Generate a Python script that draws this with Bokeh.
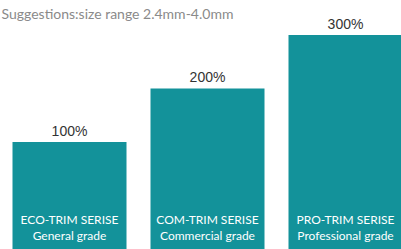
from bokeh.plotting import figure
from bokeh.models import Range1d, ColumnDataSource, Label
from bokeh.core.properties import value
from bokeh.embed import file_html
from bokeh.resources import INLINE

series = ["ECO-TRIM SERISE", "COM-TRIM SERISE", "PRO-TRIM SERISE"]
grades = ["General grade", "Commercial grade", "Professional grade"]
percent = [100, 200, 300]
pct_labels = ["100%", "200%", "300%"]
note = "Suggestions:size range 2.4mm-4.0mm"

TEAL = "#13929a"
BASE = -100

xs = list(range(len(series)))
src = ColumnDataSource(dict(x=xs, top=percent, series=series, grade=grades,
                            pct=pct_labels, base=[BASE] * len(xs)))

p = figure(width=401, height=249, output_backend="svg", toolbar_location=None,
           x_range=Range1d(-0.5, -0.5 + 401 / 138), y_range=Range1d(-101, 364.5),
           min_border=0, outline_line_color=None)
p.axis.visible = False
p.grid.visible = False
p.background_fill_color = "white"
p.border_fill_color = "white"

p.vbar(x="x", top="top", bottom="base", width=114 / 138, source=src,
       fill_color=TEAL, line_color=None)

p.text(x="x", y="top", text="pct", source=src, y_offset=-11,
       text_align="center", text_baseline="middle",
       text_font=value("Liberation Sans"), text_font_size="14px", text_color="#333333")

p.text(x="x", y="base", text="series", source=src, y_offset=-29,
       text_align="center", text_baseline="middle",
       text_font=value("Lato"), text_font_size="12px", text_color="white")
p.text(x="x", y="base", text="grade", source=src, y_offset=-13,
       text_align="center", text_baseline="middle",
       text_font=value("Lato"), text_font_size="12px", text_color="white")

p.add_layout(Label(x=1, y=236, x_units="screen", y_units="screen", text=note,
                   text_font="Lato", text_font_size="14px", text_color="#8a8a8a",
                   text_baseline="middle", text_align="left"))

open("out.html", "w").write(file_html(p, INLINE))
